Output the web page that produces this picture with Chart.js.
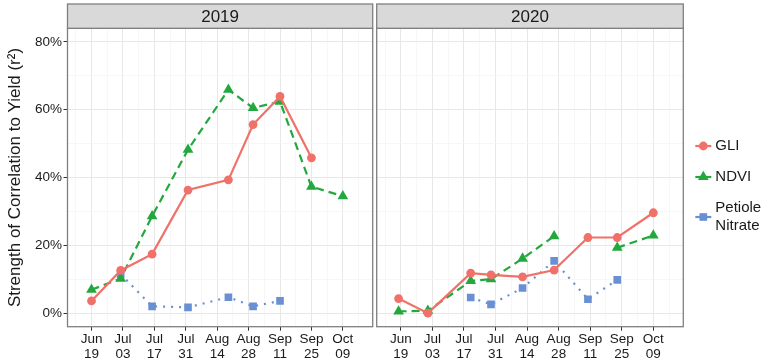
<!DOCTYPE html>
<html>
<head>
<meta charset="utf-8">
<script src="https://cdn.jsdelivr.net/npm/chart.js@4"></script>
<style>
  html, body { margin: 0; padding: 0; background: #ffffff; }
  #wrap { position: relative; width: 777px; height: 364px; overflow: hidden; background: #fff; }
  canvas { position: absolute; top: 0; }
  #c1 { left: 0; }
  #c2 { left: 375px; }
</style>
</head>
<body>
<div id="wrap">
  <canvas id="c1" width="375" height="364"></canvas>
  <canvas id="c2" width="402" height="364"></canvas>
</div>
<script>
// ---------- data ----------
const panelYears = ["2019", "2020"];
const seriesNames = ["GLI", "NDVI", "Petiole Nitrate"];
const xTickDays = [0, 14, 28, 42, 56, 70, 84, 98, 112];          // days after Jun 19
const xTickLabels = [["Jun","19"],["Jul","03"],["Jul","17"],["Jul","31"],["Aug","14"],["Aug","28"],["Sep","11"],["Sep","25"],["Oct","09"]];
const yTickValues = [0, 20, 40, 60, 80];

const days2019 = [0, 13, 27, 43, 61, 72, 84, 98, 112];
const gli2019 = [3.6, 12.6, 17.4, 36.3, 39.3, 55.6, 63.9, 45.8, null];
const ndvi2019 = [6.9, 10.2, 28.6, 48.2, 65.9, 60.5, 62.4, 37.3, 34.5];
const nitrate2019 = [null, 11.5, 2.0, 1.7, 4.7, 2.0, 3.6, null, null];

const days2020 = [-1, 12, 31, 40, 54, 68, 83, 96, 112];
const gli2020 = [4.3, 0.0, 11.8, 11.3, 10.7, 12.7, 22.3, 22.3, 29.6];
const ndvi2020 = [0.5, 0.7, 9.5, 10.0, 16.1, 22.7, null, 19.3, 22.9];
const nitrate2020 = [null, null, 4.6, 2.6, 7.4, 15.4, 4.1, 9.8, null];

// ---------- styles ----------
const FONT = '"Liberation Sans", Arial, sans-serif';
const styles = [
  { color: '#F0716A', pointStyle: 'circle', radius: 4.4, dash: [] },
  { color: '#22A83C', pointStyle: 'triangle', radius: 6.2, dash: [8, 5] },
  { color: '#6A90D4', pointStyle: 'rect', radius: 5.4, dash: [2, 6] }
];

function toPoints(days, vals) {
  return days.map((d, i) => ({ x: d, y: vals[i] }));
}
function makeDatasets(days, seriesList) {
  return seriesList.map((vals, k) => ({
    label: seriesNames[k],
    data: toPoints(days, vals),
    borderColor: styles[k].color,
    backgroundColor: styles[k].color,
    pointBackgroundColor: styles[k].color,
    pointBorderColor: styles[k].color,
    pointBorderWidth: 0,
    pointStyle: styles[k].pointStyle,
    pointRadius: styles[k].radius,
    pointHoverRadius: styles[k].radius,
    borderWidth: 2.2,
    borderDash: styles[k].dash,
    borderCapStyle: 'butt',
    tension: 0,
    spanGaps: false,
    fill: false
  }));
}

const isMajorX = v => xTickDays.includes(v);
const isMajorY = v => yTickValues.includes(v);

// ---------- plugins ----------
const panelPlugin = {
  id: 'panelDeco',
  afterDraw(chart, args, opts) {
    const { ctx, chartArea: a } = chart;
    ctx.save();
    ctx.strokeStyle = '#7F7F7F';
    ctx.lineWidth = 1.3;
    ctx.strokeRect(a.left, a.top, a.right - a.left, a.bottom - a.top);
    const top = 4;
    ctx.fillStyle = '#D9D9D9';
    ctx.fillRect(a.left, top, a.right - a.left, a.top - top);
    ctx.strokeRect(a.left, top, a.right - a.left, a.top - top);
    ctx.fillStyle = '#1A1A1A';
    ctx.font = '17px ' + FONT;
    ctx.textAlign = 'center';
    ctx.textBaseline = 'middle';
    ctx.fillText(opts.label, (a.left + a.right) / 2, (top + a.top) / 2 + 1);

    if (opts.legend) {
      const keyX = a.right + 20;
      const textX = a.right + 32;
      const rows = [146, 177, 217];
      chart.data.datasets.forEach((ds, i) => {
        const y = rows[i];
        ctx.strokeStyle = ds.borderColor;
        ctx.lineWidth = 2.2;
        ctx.setLineDash([]);
        ctx.beginPath();
        ctx.moveTo(keyX - 8, y);
        ctx.lineTo(keyX + 8, y);
        ctx.stroke();
        ctx.fillStyle = ds.pointBackgroundColor;
        if (Chart.helpers && Chart.helpers.drawPoint) {
          Chart.helpers.drawPoint(ctx, { pointStyle: ds.pointStyle, radius: ds.pointRadius, rotation: 0, borderWidth: 0 }, keyX, y);
        }
        ctx.fillStyle = '#1A1A1A';
        ctx.font = '15px ' + FONT;
        ctx.textAlign = 'left';
        ctx.textBaseline = 'middle';
        const words = ds.label.split(' ');
        if (words.length === 1) {
          ctx.fillText(ds.label, textX, y);
        } else {
          ctx.fillText(words[0], textX, y - 9);
          ctx.fillText(words.slice(1).join(' '), textX, y + 9);
        }
      });
    }
    ctx.restore();
  }
};

function xScale() {
  return {
    type: 'linear',
    min: -10.7,
    max: 125.3,
    afterBuildTicks: s => {
      const t = [];
      for (let d = -7; d <= 119; d += 7) t.push({ value: d });
      s.ticks = t;
    },
    afterFit: s => { s.height = 37.3; s.paddingLeft = 0; s.paddingRight = 0; },
    border: { display: false },
    grid: {
      color: c => isMajorX(c.tick && c.tick.value) ? '#E8E8E8' : '#F3F3F3',
      lineWidth: c => isMajorX(c.tick && c.tick.value) ? 1 : 0.7,
      tickColor: c => isMajorX(c.tick && c.tick.value) ? '#333333' : 'rgba(0,0,0,0)',
      tickLength: 4,
      drawTicks: true
    },
    ticks: {
      autoSkip: false,
      maxRotation: 0,
      minRotation: 0,
      padding: 1,
      color: '#1A1A1A',
      font: { family: FONT, size: 13.5, lineHeight: 1.1 },
      callback: v => {
        const i = xTickDays.indexOf(v);
        return i >= 0 ? xTickLabels[i] : '';
      }
    }
  };
}

function yScale(showLabels) {
  const base = {
    type: 'linear',
    min: -4,
    max: 84,
    afterBuildTicks: s => {
      s.ticks = [0, 10, 20, 30, 40, 50, 60, 70, 80].map(v => ({ value: v }));
    },
    border: { display: false },
    grid: {
      color: c => isMajorY(c.tick && c.tick.value) ? '#E8E8E8' : '#F3F3F3',
      lineWidth: c => isMajorY(c.tick && c.tick.value) ? 1 : 0.7,
      tickColor: c => isMajorY(c.tick && c.tick.value) ? '#333333' : 'rgba(0,0,0,0)',
      tickLength: 4,
      drawTicks: showLabels
    }
  };
  if (showLabels) {
    base.afterFit = s => { s.width = 67.5; s.paddingTop = 0; s.paddingBottom = 0; };
    base.ticks = {
      padding: 1.5,
      color: '#1A1A1A',
      font: { family: FONT, size: 13.5 },
      callback: v => isMajorY(v) ? v + '%' : ''
    };
    base.title = {
      display: true,
      text: 'Strength of Correlation to Yield (r\u00B2)',
      color: '#1A1A1A',
      font: { family: FONT, size: 17 },
      padding: { top: 5, bottom: 0 }
    };
  } else {
    base.afterFit = s => { s.width = 0; s.paddingTop = 0; s.paddingBottom = 0; };
    base.ticks = { display: false };
  }
  return base;
}

function makeChart(id, year, days, seriesList, isFirst) {
  return new Chart(document.getElementById(id), {
    type: 'line',
    data: { datasets: makeDatasets(days, seriesList) },
    options: {
      responsive: false,
      animation: false,
      devicePixelRatio: 1,
      layout: {
        autoPadding: false,
        padding: isFirst
          ? { left: 0, right: 2.3, top: 28.3, bottom: 0 }
          : { left: 1.7, right: 93.7, top: 28.3, bottom: 0 }
      },
      scales: { x: xScale(), y: yScale(isFirst) },
      plugins: {
        legend: { display: false },
        tooltip: { enabled: false },
        panelDeco: { label: year, legend: !isFirst }
      }
    },
    plugins: [panelPlugin]
  });
}

makeChart('c1', panelYears[0], days2019, [gli2019, ndvi2019, nitrate2019], true);
makeChart('c2', panelYears[1], days2020, [gli2020, ndvi2020, nitrate2020], false);
</script>
</body>
</html>
